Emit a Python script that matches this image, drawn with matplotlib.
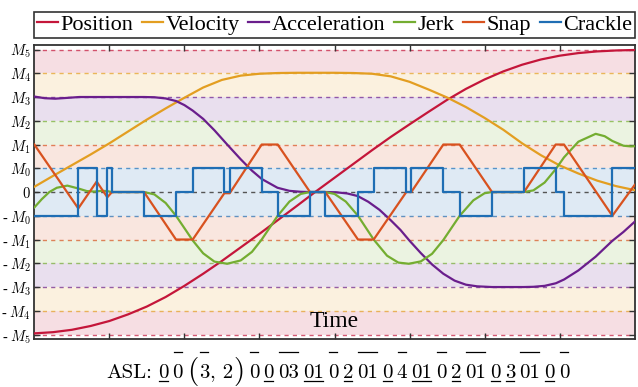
import numpy as np
import matplotlib
matplotlib.use("Agg")
import matplotlib.pyplot as plt
from matplotlib.lines import Line2D

plt.rcParams["font.family"] = ["Liberation Serif", "DejaVu Serif"]
plt.rcParams["mathtext.fontset"] = "cm"

# ---- data ----
names = ["Position", "Velocity", "Acceleration", "Jerk", "Snap", "Crackle"]
colors = ["#C4163A", "#E39E21", "#6A1E8C", "#74AD31", "#D8521F", "#1F6EB4"]

level_vals = [6, 5, 4, 3, 2, 1]          # M5 .. M0
level_labels = ["$M_5$", "$M_4$", "$M_3$", "$M_2$", "$M_1$", "$M_0$"]

t_crackle = [0, 0.586, 0.831, 0.973, 1.035, 1.462, 1.888, 2.111, 2.532, 2.604,
             3.030, 3.243, 3.674, 3.877, 4.313, 4.522, 4.957, 5.023, 5.450,
             5.668, 6.099, 6.525, 6.947, 7.058, 7.702, 8.0]
crackle = [-1, 1, -1, 1, 0, -1, 0, 1, 0, 1, 0, -1, 0, -1, 0, 1, 0, 1, 0, -1,
           0, 1, 0, -1, 1]

t_snap = t_crackle
snap = [2, -0.69, 0.44, -0.22, 0, 0, -2, -2, -0.05, -0.05, 2, 2, 0, 0, -2, -2,
        0, 0, 2, 2, 0, 0, 2, 2, -1, 0.3]

t_jerk = [0, 0.1, 0.2, 0.3, 0.44, 0.586, 0.7, 0.8, 0.9, 0.97, 1.035, 1.462,
          1.6, 1.75, 1.888, 2.0, 2.111, 2.25, 2.4, 2.57, 2.75, 2.9, 3.03,
          3.243, 3.4, 3.55, 3.674, 3.877, 4.0, 4.15, 4.313, 4.522, 4.7, 4.85,
          4.99, 5.15, 5.3, 5.45, 5.668, 5.85, 6.0, 6.099, 6.525, 6.65, 6.8,
          6.947, 7.058, 7.25, 7.48, 7.6, 7.702, 7.85, 7.95, 8.0]
jerk = [-0.65, -0.3, 0.0, 0.18, 0.27, 0.15, 0.04, 0.02, 0.05, 0.04, 0.0, 0.0,
        -0.1, -0.46, -1.0, -1.52, -2.04, -2.58, -2.93, -3.02, -2.88, -2.52,
        -2.0, -1.0, -0.4, -0.08, 0.0, 0.0, -0.08, -0.4, -1.0, -2.0, -2.68,
        -2.97, -3.02, -2.92, -2.6, -2.02, -1.0, -0.35, -0.05, 0.0, 0.0, 0.07,
        0.4, 0.96, 1.46, 2.12, 2.45, 2.35, 2.15, 1.95, 1.92, 1.93]

t_acc = [0, 0.14, 0.28, 0.42, 0.6, 1.46, 1.6, 1.75, 1.89, 2.0, 2.11, 2.25, 2.4,
         2.57, 2.75, 2.9, 3.03, 3.24, 3.4, 3.55, 3.67, 3.88, 4.02, 4.17, 4.31,
         4.45, 4.6, 4.75, 4.88, 5.0, 5.15, 5.3, 5.45, 5.6, 5.75, 5.9, 6.1,
         6.52, 6.65, 6.8, 6.95, 7.06, 7.25, 7.48, 7.6, 7.7, 7.85, 8.0]
acc = [4.02, 3.95, 3.93, 3.96, 4.0, 4.0, 3.99, 3.94, 3.83, 3.66, 3.43, 3.08,
       2.6, 2.0, 1.38, 0.9, 0.55, 0.18, 0.05, 0.01, 0, 0, -0.01, -0.06, -0.17,
       -0.41, -0.75, -1.19, -1.6, -2.05, -2.57, -3.05, -3.44, -3.73, -3.9,
       -3.97, -4.0, -4.0, -3.99, -3.95, -3.84, -3.68, -3.3, -2.72, -2.36,
       -2.06, -1.68, -1.25]

t_vel = [0, 0.25, 0.5, 0.75, 1.0, 1.25, 1.5, 1.75, 2.0, 2.25, 2.5, 2.75, 3.0,
         3.25, 3.5, 3.75, 4.0, 4.25, 4.5, 4.75, 5.0, 5.25, 5.5, 5.75, 6.0,
         6.25, 6.5, 6.75, 7.0, 7.25, 7.5, 7.75, 8.0]
vel = [0.22, 0.68, 1.13, 1.58, 2.05, 2.55, 3.05, 3.52, 3.97, 4.40, 4.72, 4.90,
       4.98, 5.01, 5.02, 5.02, 5.02, 5.01, 4.98, 4.87, 4.64, 4.32, 3.98, 3.58,
       3.12, 2.62, 2.05, 1.55, 1.12, 0.78, 0.48, 0.25, 0.08]

t_pos = t_vel
pos = [-5.95, -5.9, -5.8, -5.64, -5.43, -5.15, -4.82, -4.42, -3.95, -3.44,
       -2.9, -2.33, -1.76, -1.17, -0.58, 0.02, 0.6, 1.18, 1.76, 2.32, 2.85,
       3.37, 3.88, 4.34, 4.74, 5.08, 5.36, 5.58, 5.74, 5.85, 5.92, 5.96, 5.98]

asl_tokens = ["0", "0", "(", "3", ", 2", ")", "0", "0", "03", "01", "0", "2",
              "01", "0", "4", "01", "0", "2", "01", "0", "3", "01", "0", "0"]
asl_marks = ["u", "o", "", "o", "", "", "o", "u", "o", "u", "o", "u", "o", "u",
             "o", "u", "o", "u", "o", "u", "u", "o", "u", "o"]

# ---- figure ----
W, H = 638, 387
fig = plt.figure(figsize=(W / 100, H / 100), dpi=100)
ax = fig.add_axes([34.3 / W, 1 - 339.3 / H, 600.4 / W, 294.3 / H])

# background bands and dashed level lines
for lv, c in zip(level_vals, colors):
    if lv == 1:
        ax.axhspan(-1, 1, color=c, alpha=0.14, lw=0, zorder=0)
    else:
        ax.axhspan(lv - 1, lv, color=c, alpha=0.14, lw=0, zorder=0)
        ax.axhspan(-lv, -lv + 1, color=c, alpha=0.14, lw=0, zorder=0)
    for s in (1, -1):
        ax.axhline(s * lv, color=c, alpha=0.7, lw=1, ls=(0, (3, 3)), zorder=1)
ax.axhline(0, color="#555555", lw=1, ls=(0, (3, 3)), zorder=1)

series = [(t_pos, pos), (t_vel, vel), (t_acc, acc), (t_jerk, jerk), (t_snap, snap)]
for (tx, yv), name, c in zip(series, names[:5], colors[:5]):
    ax.plot(tx, yv, color=c, lw=1.6, label=name, zorder=3)
ax.plot(t_crackle, crackle + [crackle[-1]], color=colors[5], lw=1.6,
        drawstyle="steps-post", label=names[5], zorder=3)

ax.set_xlim(0, 8)
ax.set_ylim(-6.2, 6.19)
ax.set_xticks(range(1, 8))
ax.set_xticklabels([])
yt = [-v for v in level_vals] + [0] + level_vals[::-1]
yl = ["- " + s for s in level_labels] + ["$0$"] + level_labels[::-1]
ax.set_yticks(yt)
ax.set_yticklabels(yl, fontsize=10.5)
ax.tick_params(direction="in", length=4, width=1, color="#333333",
               top=True, right=True, pad=2.5)
for sp in ax.spines.values():
    sp.set_linewidth(1.3)
    sp.set_color("#333333")

ax.text(0.5, 0.062, "Time", transform=ax.transAxes, ha="center", va="center",
        fontsize=17)

leg = ax.legend(loc="lower left", bbox_to_anchor=(0, 1.024, 1, 0.09),
                mode="expand", ncol=6, fontsize=16, handlelength=0.95,
                handletextpad=0.1, columnspacing=0.3, borderpad=0.12,
                borderaxespad=0, fancybox=False, framealpha=1)
leg.get_frame().set_edgecolor("#333333")
leg.get_frame().set_linewidth(1.2)

# ASL annotation: tokens laid out one after another, bars drawn under/over
fig.canvas.draw()
rend = fig.canvas.get_renderer()
base = 9.5
fig.text(106 / W, base / H, "ASL:", fontsize=15, family="cmr10", va="baseline")
x = 158
for i, (tok, mk) in enumerate(zip(asl_tokens, asl_marks)):
    big = tok in ("(", ")")
    txt = fig.text(x / W, (base - (1.5 if big else 0)) / H, tok, family="cmr10",
                   fontsize=21 if big else 15, va="baseline", ha="left")
    bb = txt.get_window_extent(rend)
    if mk == "o":
        fig.add_artist(Line2D([(bb.x0 + 1) / W, (bb.x1 - 1) / W],
                              [35.5 / H, 35.5 / H], color="black", lw=0.9))
    elif mk == "u":
        fig.add_artist(Line2D([(bb.x0 + 1) / W, (bb.x1 - 1) / W],
                              [6.3 / H, 6.3 / H], color="black", lw=0.9))
    nxt = asl_tokens[i + 1] if i + 1 < len(asl_tokens) else ""
    gap = 0.5 if (tok == "(" or nxt == ")" or nxt.startswith(",")) else 4.1
    x = bb.x1 + gap

fig.savefig("out.png", dpi=100)
